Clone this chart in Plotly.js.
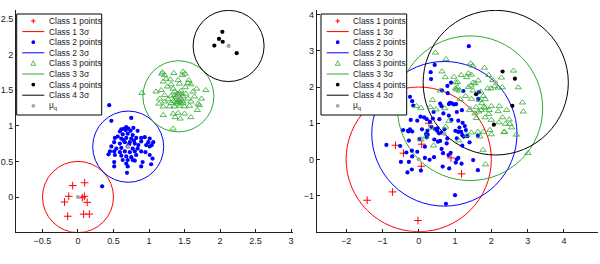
<!DOCTYPE html>
<html><head><meta charset="utf-8">
<script src="https://cdn.plot.ly/plotly-3.0.1.min.js"></script>
<style>html,body{margin:0;padding:0;background:#fff}</style>
</head><body><div id="chart" style="width:600px;height:264px"></div>
<script>
// ---------- data ----------
const muX = [0, 0.707, 1.414, 2.121];
const muY = [0, 0.707, 1.414, 2.121];
const leftRadius = 0.5;
const rightRadius = 2.0;

const leftC1X = [-0.075,0.094,-0.13,0.06,0.09,-0.19,0.13,-0.145,0.08,0.16];
const leftC1Y = [0.16,0.20,0.01,-0.01,0.01,-0.07,-0.075,-0.27,-0.24,-0.24];

const leftC2X = [0.44,0.47,0.75,0.34,0.65,0.68,0.71,0.61,0.59,0.67,0.74,0.78,0.63,0.70,0.77,0.84,0.56,0.52,0.61,0.68,0.75,0.82,0.89,0.94,1.01,0.89,0.99,0.51,0.59,0.66,0.73,0.80,0.85,1.06,0.96,1.01,1.04,0.47,0.54,0.61,0.70,0.77,0.84,0.45,0.51,0.59,0.66,0.73,0.80,0.89,0.95,0.43,0.52,0.61,0.68,0.75,0.82,1.01,0.63,0.70,0.77,1.05,0.51,0.51,0.68,0.80,1.03,0.91,0.89,0.70,0.69,0.72,0.64,0.79];
const leftC2Y = [1.29,1.07,1.11,0.15,0.96,0.98,0.96,0.95,0.92,0.94,0.93,0.97,0.88,0.89,0.87,0.93,0.85,0.83,0.82,0.83,0.82,0.83,0.83,0.84,0.82,0.78,0.77,0.77,0.75,0.77,0.77,0.75,0.73,0.77,0.73,0.71,0.73,0.71,0.68,0.69,0.71,0.68,0.68,0.64,0.64,0.63,0.64,0.63,0.64,0.64,0.63,0.60,0.59,0.58,0.57,0.56,0.59,0.59,0.52,0.52,0.52,0.54,0.49,0.43,0.47,0.51,0.46,0.49,0.43,0.43,0.34,0.74,0.80,0.79];

const leftC3X = [1.18,1.22,1.35,1.47,1.51,1.48,1.19,1.24,1.30,1.41,1.56,1.20,1.31,1.43,1.55,1.59,1.26,1.34,1.51,1.67,0.90,1.10,1.17,1.36,1.45,1.52,1.62,1.80,1.22,1.31,1.41,1.48,1.15,1.27,1.39,1.45,1.55,1.64,1.74,1.22,1.31,1.40,1.48,1.59,1.69,1.14,1.29,1.36,1.43,1.50,1.57,1.20,1.71,1.34,1.41,1.50,1.37,1.44,1.68,1.20,1.59,1.34,1.38,1.42,1.44,1.40,1.46,1.35,1.43,1.39,1.47,1.36];
const leftC3Y = [1.73,1.71,1.74,1.71,1.73,1.76,1.75,1.66,1.65,1.64,1.64,1.62,1.58,1.59,1.60,1.58,1.55,1.52,1.54,1.52,1.46,1.48,1.50,1.48,1.49,1.45,1.48,1.50,1.43,1.42,1.43,1.41,1.38,1.37,1.37,1.38,1.38,1.41,1.38,1.34,1.32,1.31,1.32,1.34,1.31,1.31,1.27,1.27,1.28,1.27,1.28,1.27,1.29,1.17,1.18,1.17,1.12,1.10,1.22,1.15,1.12,0.96,1.40,1.36,1.33,1.45,1.44,1.35,1.46,1.33,1.35,1.43];

const leftC4X = [2.033,1.986,2.038,1.92,2.235];
const leftC4Y = [2.32,2.22,2.18,2.126,2.02];

const rightC1X = [-1.42,-0.72,-0.64,-0.42,-0.02,0.07,0.08,0.28,0.89,1.18];
const rightC1Y = [-1.13,-0.90,0.39,0.17,-1.69,-0.19,0.42,1.00,0.04,-0.40];

const rightC2X = [1.38,0.44,0.33,0.34,0.79,0.89,0.64,1.23,1.64,0.80,1.66,
 -0.24,-0.18,-0.15,0.15,0.22,0.05,-0.22,-0.04,0.31,-0.24,-0.43,-0.30,0.24,0.09,
 0.35,0.45,0.52,
 0.59,0.83,0.91,0.97,1.03,0.68,0.41,0.39,0.57,0.83,1.05,1.19,0.90,1.09,1.21,1.27,1.12,1.01,1.17,1.30,0.51,0.71,0.25,
 0.86,0.63,
 -0.28,-0.18,0.02,0.22,0.20,0.43,0.53,-0.27,-0.89,-0.34,-0.18,-0.04,-0.49,-0.27,0.17,0.30,0.42,-0.19,-0.31,0.06,
 0.63,1.09,1.20,1.34,0.79,0.59,1.05,1.40,1.63,0.67,0.82,0.88,1.05,1.09,1.02,1.18,0.66,0.84,1.50,1.63,1.00,0.75,
 1.24,1.20,-0.51,-0.19,0.17,0.63,0.77,0.56];
const rightC2Y = [3.13,2.61,2.41,2.22,2.03,2.12,1.91,1.89,1.67,1.83,1.86,
 1.73,1.61,1.49,1.16,1.11,1.18,1.09,1.07,1.04,0.83,0.81,0.79,0.79,0.83,
 0.90,0.84,0.86,
 1.54,1.53,1.55,1.52,1.53,1.27,1.31,1.13,1.11,1.21,1.31,1.36,1.09,1.07,1.01,0.92,0.88,0.79,0.76,0.81,0.79,0.83,0.68,
 1.56,1.47,
 0.77,0.77,0.56,0.61,0.70,0.55,0.49,0.52,0.40,0.19,0.08,0.21,-0.07,-0.07,0.04,-0.01,0.06,-0.28,-0.36,-0.31,
 0.74,0.76,0.67,0.64,0.58,0.51,0.58,0.47,0.65,0.17,0.12,0.18,0.00,0.04,-0.09,-0.12,-0.20,-0.25,-0.02,-0.30,-0.99,-1.23,
 0.63,0.38,0.37,0.24,0.35,0.29,0.44,0.72];

const rightC3X = [0.46,0.75,1.43,1.49,1.81,0.64,0.73,1.17,1.32,1.45,
 1.37,0.97,1.07,1.64,1.93,2.04,2.28,2.61,2.74,2.09,
 2.19,2.30,1.01,1.07,1.12,1.02,1.05,1.37,1.50,1.44,
 1.55,1.50,1.71,1.90,1.99,0.59,0.38,-0.06,0.06,0.32,
 0.48,0.72,1.14,1.29,1.45,1.67,1.83,1.78,2.00,2.22,
 1.74,1.83,1.94,2.19,2.42,1.72,1.80,1.58,1.40,1.55,
 1.65,1.59,1.83,1.93,2.00,2.31,2.49,2.21,2.39,2.51,
 2.56,2.35,2.69,2.88,2.86,3.01,2.00,1.96,1.78,1.63,
 1.84,1.77,1.69,1.45,1.32,0.74,0.41,0.20,0.34,0.06,
 1.10,0.83,2.36];
const rightC3Y = [2.95,2.77,2.65,2.59,2.53,2.43,2.27,2.33,2.27,2.34,
 2.38,2.28,2.13,2.18,2.33,2.19,2.26,2.45,1.99,2.02,
 1.98,1.99,1.96,1.99,1.90,2.13,1.93,2.00,2.12,2.04,
 2.10,1.90,1.87,1.96,1.96,1.90,1.64,1.47,1.42,1.44,
 1.38,1.41,1.66,1.75,1.67,1.64,1.66,1.75,1.47,1.47,
 1.55,1.42,1.36,1.33,1.36,1.36,1.45,1.44,1.36,1.27,
 1.32,1.14,1.16,1.25,1.09,1.16,1.10,1.02,0.98,0.98,
 0.88,0.75,0.68,1.32,1.57,0.17,0.69,0.81,0.76,0.76,
 -0.14,0.26,0.63,0.74,0.67,0.90,0.38,0.63,0.87,0.55,
 0.52,1.06,0.76];

const rightC4X = [2.31,2.65,1.58,2.58,2.07];
const rightC4Y = [2.43,2.23,1.80,1.48,0.96];

const leftXTicks = [-0.5,0,0.5,1,1.5,2,2.5,3];
const leftYTicks = [0,0.5,1,1.5,2,2.5];
const rightXTicks = [-2,-1,0,1,2,3,4];
const rightYTicks = [-1,0,1,2,3,4];

const legendLabels = ['Class 1 points','Class 1 3σ','Class 2 points','Class 2 3σ','Class 3 points','Class 3 3σ','Class 4 points','Class 4 3σ','μ<sub>q</sub>'];

// ---------- styling ----------
const RED='#ff0000', BLUE='#0000ff', GREEN='#2eaa2e', BLACK='#000000', GREY='#a6a6a6';
const classColors=[RED,BLUE,GREEN,BLACK];
const W=600,H=264;
const fx = p => p/W, fy = p => 1 - p/H;

function pts(x,y,xa,ya,kind){
  const base={type:'scatter',mode:'markers',x:x,y:y,xaxis:xa,yaxis:ya,hoverinfo:'skip',showlegend:false,cliponaxis:true};
  if(kind===0) base.marker={symbol:'cross-thin-open',size:5.5,color:RED,line:{color:RED,width:1}};
  if(kind===1) base.marker={symbol:'circle',size:4.2,color:BLUE,line:{width:0}};
  if(kind===2) base.marker={symbol:'triangle-up-open',size:5.5,color:GREEN,line:{color:GREEN,width:0.8}};
  if(kind===3) base.marker={symbol:'circle',size:4.2,color:BLACK,line:{width:0}};
  if(kind===4) base.marker={symbol:'circle',size:4.2,color:GREY,line:{width:0}};
  return base;
}

const traces=[
  pts(leftC1X,leftC1Y,'x','y',0), pts(leftC2X,leftC2Y,'x','y',1), pts(leftC3X,leftC3Y,'x','y',2), pts(leftC4X,leftC4Y,'x','y',3), pts(muX,muY,'x','y',4),
  pts(rightC1X,rightC1Y,'x2','y2',0), pts(rightC2X,rightC2Y,'x2','y2',1), pts(rightC3X,rightC3Y,'x2','y2',2), pts(rightC4X,rightC4Y,'x2','y2',3), pts(muX,muY,'x2','y2',4)
];

const shapes=[], annotations=[];
// 3-sigma circles in data coordinates
for(let i=0;i<4;i++){
  shapes.push({type:'circle',xref:'x',yref:'y',x0:muX[i]-leftRadius,x1:muX[i]+leftRadius,y0:muY[i]-leftRadius,y1:muY[i]+leftRadius,line:{color:classColors[i],width:1},layer:'below'});
  shapes.push({type:'circle',xref:'x2',yref:'y2',x0:muX[i]-rightRadius,x1:muX[i]+rightRadius,y0:muY[i]-rightRadius,y1:muY[i]+rightRadius,line:{color:classColors[i],width:1},layer:'below'});
}

// manual legends (pixel positions converted to paper)
function legend(bx0,bx1,mx,lx0,lx1,tx){
  const by0=14, by1=115, step=10.6, r0=21;
  shapes.push({type:'rect',xref:'paper',yref:'paper',x0:fx(bx0),x1:fx(bx1),y0:fy(by1),y1:fy(by0),line:{color:'#000',width:1},fillcolor:'#fff',layer:'above'});
  for(let k=0;k<9;k++){
    const cy=r0+k*step;
    const cls=Math.floor(k/2);
    if(k%2===1){
      shapes.push({type:'line',xref:'paper',yref:'paper',x0:fx(lx0),x1:fx(lx1),y0:fy(cy),y1:fy(cy),line:{color:classColors[cls],width:1},layer:'above'});
    } else if(k===0){
      const d=2.2;
      shapes.push({type:'path',xref:'paper',yref:'paper',path:`M${fx(mx-d)},${fy(cy)}L${fx(mx+d)},${fy(cy)}M${fx(mx)},${fy(cy-d)}L${fx(mx)},${fy(cy+d)}`,line:{color:RED,width:1},layer:'above'});
    } else if(k===4){
      const d=2.4;
      shapes.push({type:'path',xref:'paper',yref:'paper',path:`M${fx(mx-d)},${fy(cy+d*0.8)}L${fx(mx+d)},${fy(cy+d*0.8)}L${fx(mx)},${fy(cy-d*1.1)}Z`,line:{color:GREEN,width:0.8},layer:'above'});
    } else {
      const col = k===2?BLUE:(k===6?BLACK:GREY);
      const r=1.9;
      shapes.push({type:'circle',xref:'paper',yref:'paper',x0:fx(mx-r),x1:fx(mx+r),y0:fy(cy+r),y1:fy(cy-r),fillcolor:col,line:{width:0},layer:'above'});
    }
    annotations.push({xref:'paper',yref:'paper',x:fx(tx),y:fy(cy),xanchor:'left',yanchor:'middle',text:legendLabels[k],showarrow:false,font:{size:8.4,color:'#222'},borderpad:0});
  }
}
legend(16.7,101.7,33.3,22.3,44.3,47.8);
legend(321,406.7,337.7,326.7,348.7,351.6);

const axBase={showline:true,linecolor:'#222',linewidth:1,ticks:'inside',ticklen:3,tickcolor:'#222',tickwidth:1,showgrid:false,zeroline:false,mirror:false,fixedrange:true,tickfont:{size:9,color:'#222'}};
const yDom=[fy(231.7),fy(10)];
const layout={
  width:W,height:H,autosize:false,
  margin:{l:0,r:0,t:0,b:0,pad:0},
  paper_bgcolor:'#fff',plot_bgcolor:'#fff',
  font:{family:'Liberation Sans, Arial, sans-serif',size:9,color:'#222'},
  showlegend:false,
  xaxis:Object.assign({},axBase,{domain:[fx(16),fx(293)],range:[-0.873,3.028],tickvals:leftXTicks,anchor:'y'}),
  yaxis:Object.assign({},axBase,{domain:yDom,range:[-0.487,2.626],tickvals:leftYTicks,anchor:'x'}),
  xaxis2:Object.assign({},axBase,{domain:[fx(316.7),fx(597.7)],range:[-2.81,4.93],tickvals:rightXTicks,anchor:'y2'}),
  yaxis2:Object.assign({},axBase,{domain:yDom,range:[-2.0,4.13],tickvals:rightYTicks,anchor:'x2'}),
  shapes:shapes,annotations:annotations
};
Plotly.newPlot('chart',traces,layout,{displayModeBar:false,staticPlot:true});
</script></body></html>
